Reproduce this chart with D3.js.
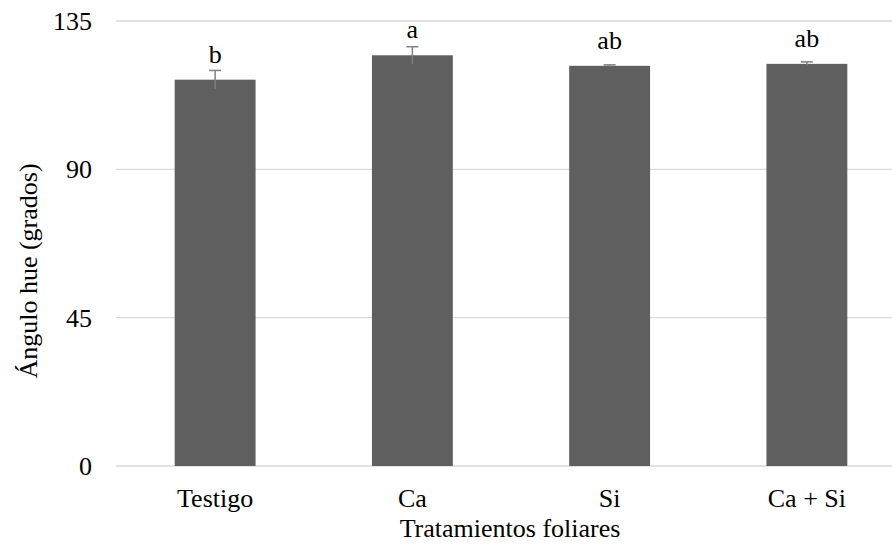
<!DOCTYPE html>
<html>
<head>
<meta charset="utf-8">
<script src="https://cdn.jsdelivr.net/npm/d3@7"></script>
<style>
  body { margin: 0; background: white; }
</style>
</head>
<body>
<svg id="canvas" width="892" height="550"></svg>
<script>
// ************************************************************************************** //
// Data

var categories = ['Testigo', 'Ca', 'Si', 'Ca + Si'];
var values = [117.2, 124.6, 121.4, 122.0];
var errors = [2.8, 2.6, 0.3, 0.6];
var letters = ['b', 'a', 'ab', 'ab'];
var y_ticks = [0, 45, 90, 135];

// ************************************************************************************** //
// Scales

var font_size = 26;
var serif = 'Liberation Serif, DejaVu Serif, serif';
var svg = d3.select('#canvas').attr('font-family', serif).style('font-family', serif);

var x = d3.scaleBand().domain(categories).range([116.5, 905.5]).paddingInner(0.59).paddingOuter(0.295);
var y = d3.scaleLinear().domain([0, 135]).range([466, 21]);

// ************************************************************************************** //
// Grid and ticks

var grid_g = svg.append('g');
y_ticks.forEach(function(t){
  grid_g.append('line').attr('x1', 116).attr('x2', 892).attr('y1', y(t)).attr('y2', y(t))
    .style('stroke', '#d9d9d9').style('stroke-width', 1.4);
  grid_g.append('text').attr('x', 92).attr('y', y(t)).attr('dy', '0.34em')
    .attr('text-anchor', 'end').style('font-size', font_size + 'px').text(t);
});

// ************************************************************************************** //
// Bars, error bars, letters

var bars_g = svg.append('g');
categories.forEach(function(c, i){
  var cx = x(c) + x.bandwidth()/2;
  bars_g.append('rect').attr('x', x(c)).attr('width', x.bandwidth())
    .attr('y', y(values[i])).attr('height', y(0) - y(values[i]))
    .style('fill', '#5f5f5f');
  bars_g.append('line').attr('x1', cx).attr('x2', cx)
    .attr('y1', y(values[i] + errors[i])).attr('y2', y(values[i] - errors[i]))
    .style('stroke', '#808080').style('stroke-width', 1.5);
  bars_g.append('line').attr('x1', cx - 6).attr('x2', cx + 6)
    .attr('y1', y(values[i] + errors[i])).attr('y2', y(values[i] + errors[i]))
    .style('stroke', '#808080').style('stroke-width', 1.5);
  bars_g.append('text').attr('x', cx).attr('y', y(values[i]) - 17)
    .attr('text-anchor', 'middle').style('font-size', font_size + 'px').text(letters[i]);
  bars_g.append('text').attr('x', cx).attr('y', 507)
    .attr('text-anchor', 'middle').style('font-size', font_size + 'px').text(c);
});

// ************************************************************************************** //
// Axis titles

svg.append('text').attr('x', 510).attr('y', 537).attr('text-anchor', 'middle')
  .style('font-size', font_size + 'px').text('Tratamientos foliares');

svg.append('text').attr('transform', 'translate(37,271) rotate(-90)').attr('text-anchor', 'middle')
  .style('font-size', font_size + 'px').text('Ángulo hue (grados)');
</script>
</body>
</html>
